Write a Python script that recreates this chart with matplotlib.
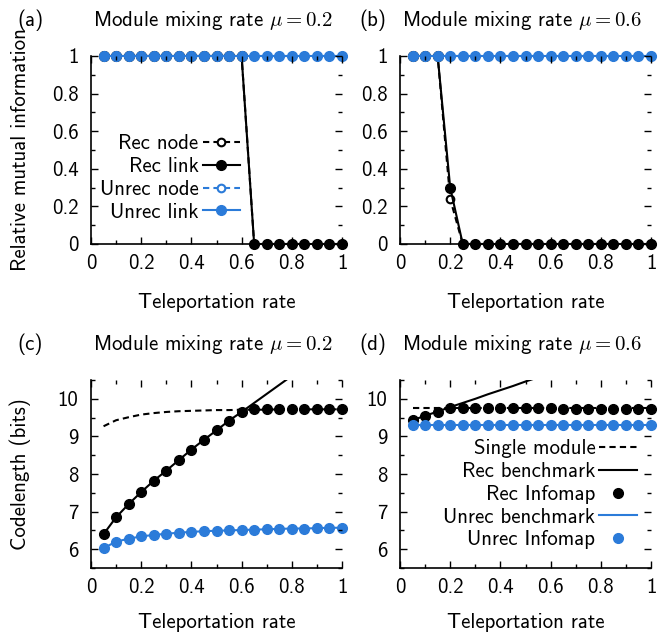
import matplotlib

matplotlib.use("Agg")
import matplotlib.pyplot as plt
from matplotlib.ticker import FuncFormatter, MultipleLocator


BLUE = "#2b7bd9"
BLACK = "black"
FONT_SIZE = 15
DASHES = (0, (3, 2))

TELEPORTATION = [0.05, 0.10, 0.15, 0.20, 0.25, 0.30, 0.35, 0.40, 0.45, 0.50,
                 0.55, 0.60, 0.65, 0.70, 0.75, 0.80, 0.85, 0.90, 0.95, 1.00]

# (a) mu = 0.2, relative mutual information
A_REC_NODE = [1, 1, 1, 1, 1, 1, 1, 1, 1, 1, 1, 1, 0, 0, 0, 0, 0, 0, 0, 0]
A_REC_LINK = [1, 1, 1, 1, 1, 1, 1, 1, 1, 1, 1, 1, 0, 0, 0, 0, 0, 0, 0, 0]
A_UNREC_NODE = [1, 1, 1, 1, 1, 1, 1, 1, 1, 1, 1, 1, 1, 1, 1, 1, 1, 1, 1, 1]
A_UNREC_LINK = [1, 1, 1, 1, 1, 1, 1, 1, 1, 1, 1, 1, 1, 1, 1, 1, 1, 1, 1, 1]

# (b) mu = 0.6, relative mutual information
B_REC_NODE = [1, 1, 1, 0.24, 0, 0, 0, 0, 0, 0, 0, 0, 0, 0, 0, 0, 0, 0, 0, 0]
B_REC_LINK = [1, 1, 1, 0.30, 0, 0, 0, 0, 0, 0, 0, 0, 0, 0, 0, 0, 0, 0, 0, 0]
B_UNREC_NODE = [1, 1, 1, 1, 1, 1, 1, 1, 1, 1, 1, 1, 1, 1, 1, 1, 1, 1, 1, 1]
B_UNREC_LINK = [1, 1, 1, 1, 1, 1, 1, 1, 1, 1, 1, 1, 1, 1, 1, 1, 1, 1, 1, 1]

# (c) mu = 0.2, codelength
C_SINGLE = [9.27, 9.43, 9.51, 9.58, 9.62, 9.65, 9.67, 9.68, 9.69, 9.70,
            9.70, 9.71, 9.71, 9.71, 9.72, 9.72, 9.72, 9.72, 9.72, 9.72]
C_REC_BENCHMARK = [6.40, 6.85, 7.20, 7.52, 7.82, 8.09, 8.37, 8.65, 8.91, 9.16,
                   9.42, 9.65, 9.89, 10.13, 10.37, 10.61, 10.84, 11.07, 11.30, 11.53]
C_REC_INFOMAP = [6.40, 6.85, 7.20, 7.52, 7.82, 8.09, 8.37, 8.65, 8.91, 9.16,
                 9.42, 9.65, 9.72, 9.72, 9.72, 9.72, 9.72, 9.72, 9.72, 9.72]
C_UNREC_BENCHMARK = [6.03, 6.20, 6.28, 6.34, 6.38, 6.41, 6.44, 6.46, 6.48, 6.49,
                     6.50, 6.51, 6.52, 6.53, 6.54, 6.55, 6.55, 6.56, 6.57, 6.57]
C_UNREC_INFOMAP = [6.03, 6.20, 6.28, 6.34, 6.38, 6.41, 6.44, 6.46, 6.48, 6.49,
                   6.50, 6.51, 6.52, 6.53, 6.54, 6.55, 6.55, 6.56, 6.57, 6.57]

# (d) mu = 0.6, codelength
D_SINGLE = [9.76, 9.76, 9.76, 9.76, 9.76, 9.76, 9.76, 9.76, 9.76, 9.76,
            9.76, 9.76, 9.76, 9.76, 9.76, 9.76, 9.76, 9.76, 9.76, 9.76]
D_REC_BENCHMARK = [9.43, 9.55, 9.66, 9.78, 9.89, 10.00, 10.12, 10.23, 10.34, 10.46,
                   10.57, 10.68, 10.80, 10.91, 11.02, 11.14, 11.25, 11.36, 11.48, 11.59]
D_REC_INFOMAP = [9.43, 9.54, 9.66, 9.75, 9.75, 9.75, 9.75, 9.75, 9.75, 9.75,
                 9.75, 9.75, 9.74, 9.74, 9.74, 9.74, 9.74, 9.73, 9.73, 9.73]
D_UNREC_BENCHMARK = [9.30, 9.30, 9.30, 9.30, 9.30, 9.30, 9.30, 9.30, 9.30, 9.30,
                     9.30, 9.30, 9.30, 9.30, 9.30, 9.30, 9.30, 9.30, 9.30, 9.30]
D_UNREC_INFOMAP = [9.30, 9.30, 9.30, 9.30, 9.30, 9.30, 9.30, 9.30, 9.30, 9.30,
                   9.30, 9.30, 9.30, 9.30, 9.30, 9.30, 9.30, 9.30, 9.30, 9.30]

# axes boxes in figure pixels: left, top, right, bottom
FIG_W, FIG_H = 660, 635
BOXES = {
    "a": (91, 56, 342, 244),
    "b": (400, 56, 651, 244),
    "c": (91, 380, 342, 568),
    "d": (400, 380, 651, 568),
}
# x pixel of the "(a)" style panel letters
LETTER_X = {"a": 17, "b": 359, "c": 17, "d": 359}


def add_panel(fig, key):
    left, top, right, bottom = BOXES[key]
    rect = [left / FIG_W, 1 - bottom / FIG_H, (right - left) / FIG_W, (bottom - top) / FIG_H]
    ax = fig.add_axes(rect)
    ax.spines["top"].set_visible(False)
    ax.spines["right"].set_visible(False)
    for side in ("left", "bottom"):
        ax.spines[side].set_linewidth(1.2)
    ax.set_axisbelow(False)
    ax.set_xlim(0, 1)
    ax.xaxis.set_major_locator(MultipleLocator(0.2))
    ax.xaxis.set_minor_locator(MultipleLocator(0.1))
    ax.xaxis.set_major_formatter(FuncFormatter(lambda v, _: f"{v:g}"))
    ax.yaxis.set_major_formatter(FuncFormatter(lambda v, _: f"{v:g}"))
    ax.tick_params(which="both", direction="in", top=True, right=True,
                   labelsize=FONT_SIZE, width=1.0)
    ax.tick_params(which="major", length=5)
    ax.tick_params(axis="x", which="major", pad=7)
    ax.tick_params(axis="y", which="major", pad=9)
    ax.tick_params(which="minor", length=3)
    ax.set_xlabel("Teleportation rate", fontsize=FONT_SIZE)
    ax.xaxis.label.set_va("center")
    return ax


def panel_title(fig, key, text):
    left, top, _, _ = BOXES[key]
    y = 1 - (top - 36) / FIG_H
    fig.text(LETTER_X[key] / FIG_W, y, f"({key})", fontsize=FONT_SIZE, va="center")
    fig.text((left + 2) / FIG_W, y, text, fontsize=FONT_SIZE, va="center")


def add_legend(ax, anchor):
    ax.legend(loc="center right", bbox_to_anchor=anchor, frameon=False,
              markerfirst=False, fontsize=FONT_SIZE, handlelength=1.8,
              handletextpad=0.2, labelspacing=0.18, borderpad=0, borderaxespad=0)


def plot_mutual_information(ax, rec_node, rec_link, unrec_node, unrec_link, with_legend):
    ax.set_ylim(0, 1)
    ax.yaxis.set_major_locator(MultipleLocator(0.2))
    ax.yaxis.set_minor_locator(MultipleLocator(0.1))
    ax.plot(TELEPORTATION, rec_node, color=BLACK, linestyle=DASHES, lw=1.5,
            marker="o", ms=5.5, mfc="white", mec=BLACK, mew=1.5, clip_on=False,
            label="Rec node")
    ax.plot(TELEPORTATION, rec_link, color=BLACK, lw=1.5, marker="o", ms=7,
            clip_on=False, label="Rec link")
    ax.plot(TELEPORTATION, unrec_node, color=BLUE, linestyle=DASHES, lw=1.5,
            marker="o", ms=5.5, mfc="white", mec=BLUE, mew=1.5, clip_on=False,
            label="Unrec node")
    ax.plot(TELEPORTATION, unrec_link, color=BLUE, lw=1.5, marker="o", ms=7,
            clip_on=False, label="Unrec link")
    ax.xaxis.set_label_coords(0.5, -0.31)
    if with_legend:
        add_legend(ax, (0.594, 0.351))


def plot_codelength(ax, single, rec_bench, rec_info, unrec_bench, unrec_info, with_legend):
    ax.set_ylim(5.5, 10.5)
    ax.yaxis.set_major_locator(MultipleLocator(1))
    ax.yaxis.set_minor_locator(MultipleLocator(0.5))
    ax.plot(TELEPORTATION, single, color=BLACK, linestyle=DASHES, lw=1.5,
            label="Single module")
    ax.plot(TELEPORTATION, rec_bench, color=BLACK, lw=1.5, label="Rec benchmark")
    ax.plot(TELEPORTATION, rec_info, color=BLACK, linestyle="none", marker="o",
            ms=7, clip_on=False, label="Rec Infomap")
    ax.plot(TELEPORTATION, unrec_bench, color=BLUE, lw=1.5, label="Unrec benchmark")
    ax.plot(TELEPORTATION, unrec_info, color=BLUE, linestyle="none", marker="o",
            ms=7, clip_on=False, label="Unrec Infomap")
    ax.xaxis.set_label_coords(0.5, -0.29)
    if with_legend:
        add_legend(ax, (0.944, 0.391))


def main():
    plt.rcParams["font.family"] = ["cmss10", "DejaVu Sans"]
    plt.rcParams["mathtext.fontset"] = "cm"
    plt.rcParams["axes.unicode_minus"] = False

    fig = plt.figure(figsize=(FIG_W / 100, FIG_H / 100), dpi=100)

    ax_a = add_panel(fig, "a")
    plot_mutual_information(ax_a, A_REC_NODE, A_REC_LINK, A_UNREC_NODE, A_UNREC_LINK, True)
    ax_a.set_ylabel("Relative mutual information", fontsize=FONT_SIZE)
    ax_a.yaxis.label.set_va("center")
    ax_a.yaxis.set_label_coords(-0.28, 0.5)

    ax_b = add_panel(fig, "b")
    plot_mutual_information(ax_b, B_REC_NODE, B_REC_LINK, B_UNREC_NODE, B_UNREC_LINK, False)

    ax_c = add_panel(fig, "c")
    plot_codelength(ax_c, C_SINGLE, C_REC_BENCHMARK, C_REC_INFOMAP,
                    C_UNREC_BENCHMARK, C_UNREC_INFOMAP, False)
    ax_c.set_ylabel("Codelength (bits)", fontsize=FONT_SIZE)
    ax_c.yaxis.label.set_va("center")
    ax_c.yaxis.set_label_coords(-0.28, 0.5)

    ax_d = add_panel(fig, "d")
    plot_codelength(ax_d, D_SINGLE, D_REC_BENCHMARK, D_REC_INFOMAP,
                    D_UNREC_BENCHMARK, D_UNREC_INFOMAP, True)

    panel_title(fig, "a", r"Module mixing rate $\mu = 0.2$")
    panel_title(fig, "b", r"Module mixing rate $\mu = 0.6$")
    panel_title(fig, "c", r"Module mixing rate $\mu = 0.2$")
    panel_title(fig, "d", r"Module mixing rate $\mu = 0.6$")

    fig.savefig("out.png", dpi=100)
    plt.close(fig)


if __name__ == "__main__":
    main()
